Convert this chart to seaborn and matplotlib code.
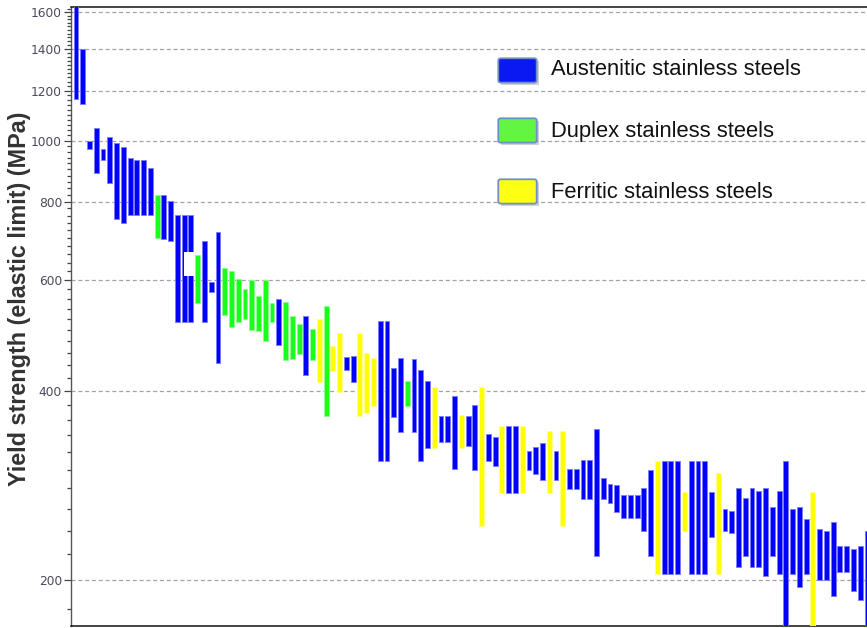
import numpy as np
import pandas as pd
import matplotlib
matplotlib.use("Agg")
import matplotlib.pyplot as plt
from matplotlib.patches import Rectangle, FancyBboxPatch
from matplotlib.ticker import FixedLocator, FuncFormatter, NullFormatter
import seaborn as sns

# Steel family of each grade, in plotting order
# (A = austenitic, D = duplex, F = ferritic)
grade_family = (
    "AAAAAAAAAAAA" "D" "AAAAA" "D" "AAA" "DDDDDDDD" "A" "DDD" "A" "D" "F" "D"
    "FF" "AA" "FFF" "AAAA" "D" "AAA" "F" "AAA" "F" "AA" "F" "AA" "F" "AA" "F"
    "AAA" "F" "A" "F" "AAAAAAAAAAAAA" "F" "AAA" "F" "AAAA" "F" "AAAAAAAAAAAAA"
    "F" "AAAAAAAA"
)

# Upper end of the yield strength range of each grade (MPa)
yield_high = [
    1700, 1400, 1000, 1046, 970, 1012, 990, 978, 939, 931,
    931, 906, 819, 819, 802, 763, 763, 763, 658, 692,
    596, 716, 627, 620, 603, 581, 600, 566, 600, 551,
    560, 553, 526, 511, 526, 501, 521, 546, 471, 494,
    453, 455, 494, 460, 451, 517, 517, 435, 451, 415,
    450, 432, 415, 406, 365, 365, 393, 366, 365, 380,
    406, 342, 338, 352, 352, 352, 352, 321, 326, 331,
    345, 321, 345, 301, 301, 311, 311, 348, 291, 285,
    284, 273, 273, 273, 280, 300, 310, 310, 310, 310,
    276, 310, 310, 310, 276, 296, 260, 258, 280, 270,
    280, 277, 280, 262, 277, 310, 260, 262, 250, 276,
    241, 240, 248, 227, 227, 224, 227, 240,
]

# Lower end of the yield strength range of each grade (MPa)
yield_low = [
    1165, 1143, 970, 887, 931, 855, 750, 740, 761, 761,
    761, 761, 699, 697, 692, 515, 515, 515, 552, 515,
    575, 443, 528, 505, 515, 520, 500, 499, 481, 515,
    474, 448, 450, 458, 424, 448, 414, 365, 430, 399,
    432, 413, 365, 369, 379, 310, 310, 364, 344, 379,
    344, 310, 325, 325, 332, 332, 301, 325, 327, 299,
    244, 310, 304, 275, 275, 275, 275, 299, 295, 289,
    275, 289, 244, 279, 279, 269, 269, 219, 269, 265,
    257, 251, 251, 251, 240, 219, 205, 205, 205, 205,
    240, 205, 205, 205, 234, 205, 240, 238, 210, 219,
    210, 210, 203, 219, 205, 160, 205, 195, 205, 160,
    200, 200, 189, 206, 206, 192, 186, 160,
]

family_codes = ["A", "D", "F"]
family_names = ["Austenitic stainless steels", "Duplex stainless steels",
                "Ferritic stainless steels"]
y_major = [200, 400, 600, 800, 1000, 1200, 1400, 1600]

family_fill = {"A": "#0000ff", "D": "#1aff1a", "F": "#ffff00"}
family_edge = {"A": "#7b7bff", "D": "#8fff8f", "F": "#ffff90"}
legend_fill = {"A": "#0a18f2", "D": "#62f542", "F": "#ffff14"}

df = pd.DataFrame({
    "pos": np.arange(len(grade_family)),
    "family": list(grade_family),
    "low": yield_low,
    "high": yield_high,
})
df["span"] = df["high"] - df["low"]

sns.set_theme(style="white")
plt.rcParams["font.family"] = ["DejaVu Sans"]
plt.rcParams["lines.scale_dashes"] = False

W, H = 867, 628
fig = plt.figure(figsize=(W / 100, H / 100), dpi=100)
ax = fig.add_axes([70.7 / W, 2.0 / H, (880 - 70.7) / W, (626 - 7.3) / H])

# one floating bar per grade, from the lower to the upper yield strength
for code in family_codes:
    sub = df[df["family"] == code].sort_values("pos")
    sns.barplot(data=sub, x="pos", y="span", native_scale=True, width=0.72,
                color=family_fill[code], saturation=1, errorbar=None,
                bottom=sub["low"].to_numpy(), edgecolor=family_edge[code],
                linewidth=0.6, zorder=3, ax=ax)

# blank patch across two of the grades
ax.bar(16.82, 664 - 609, bottom=609, width=1.6, color="white",
       linewidth=0, zorder=4)

ax.set_yscale("log")
ax.set_ylim(169.2, 1629)
ax.set_xlim(-0.784, 118.93)

ax.yaxis.set_major_locator(FixedLocator(y_major))
ax.yaxis.set_minor_locator(FixedLocator(
    [v for v in range(180, 1640, 20) if v not in y_major]))
ax.yaxis.set_major_formatter(FuncFormatter(lambda v, p: f"{v:.0f}"))
ax.yaxis.set_minor_formatter(NullFormatter())
ax.set_xticks([])
ax.set_xlabel("")

ax.tick_params(axis="y", which="major", direction="out", length=5.2,
               width=0.9, color="#444444", pad=1, labelsize=8.8,
               labelcolor="#4a4a5a", left=True)
ax.tick_params(axis="y", which="minor", direction="out", length=2.9,
               width=0.9, color="#444444", left=True)

ax.grid(False)
ax.yaxis.grid(True, which="major", color="#a3a3a3",
              linestyle=(0, (2.9, 2.0)), linewidth=0.9)
ax.set_axisbelow(True)

for side in ["top", "bottom"]:
    ax.spines[side].set_color("#111111")
    ax.spines[side].set_linewidth(1.1)
ax.spines["left"].set_color("#555555")
ax.spines["left"].set_linewidth(1.0)

ax.set_ylabel("Yield strength (elastic limit) (MPa)", fontsize=16.8,
              fontweight="bold", color="#333333",
              family=["Liberation Sans", "DejaVu Sans"])
ax.yaxis.set_label_coords(-0.0491, 0.5285)

# legend: swatch with soft shadow, then the family name
patch_tops = [58.3, 118.3, 179.3]
text_baselines = [75.0, 136.6, 198.3]
px, pw, ph = 498.3, 38.4, 24.3
for code, name, top, base in zip(family_codes, family_names,
                                 patch_tops, text_baselines):
    shadow = Rectangle(((px + 2.5) / W, 1 - (top + ph + 2.5) / H), pw / W,
                       ph / H, transform=fig.transFigure,
                       facecolor="#9a9a9a", alpha=0.45, linewidth=0)
    fig.patches.append(shadow)
    swatch = FancyBboxPatch((px / W, 1 - (top + ph) / H), pw / W, ph / H,
                            boxstyle="round,pad=0,rounding_size=0.003",
                            transform=fig.transFigure,
                            facecolor=legend_fill[code], edgecolor="#6f8fc6",
                            linewidth=1.3)
    fig.patches.append(swatch)
    fig.text(551 / W, 1 - base / H, name, fontsize=15.8, ha="left",
             va="baseline", color="#111111",
             family=["Liberation Sans", "DejaVu Sans"])

fig.savefig("out.png", dpi=100)
